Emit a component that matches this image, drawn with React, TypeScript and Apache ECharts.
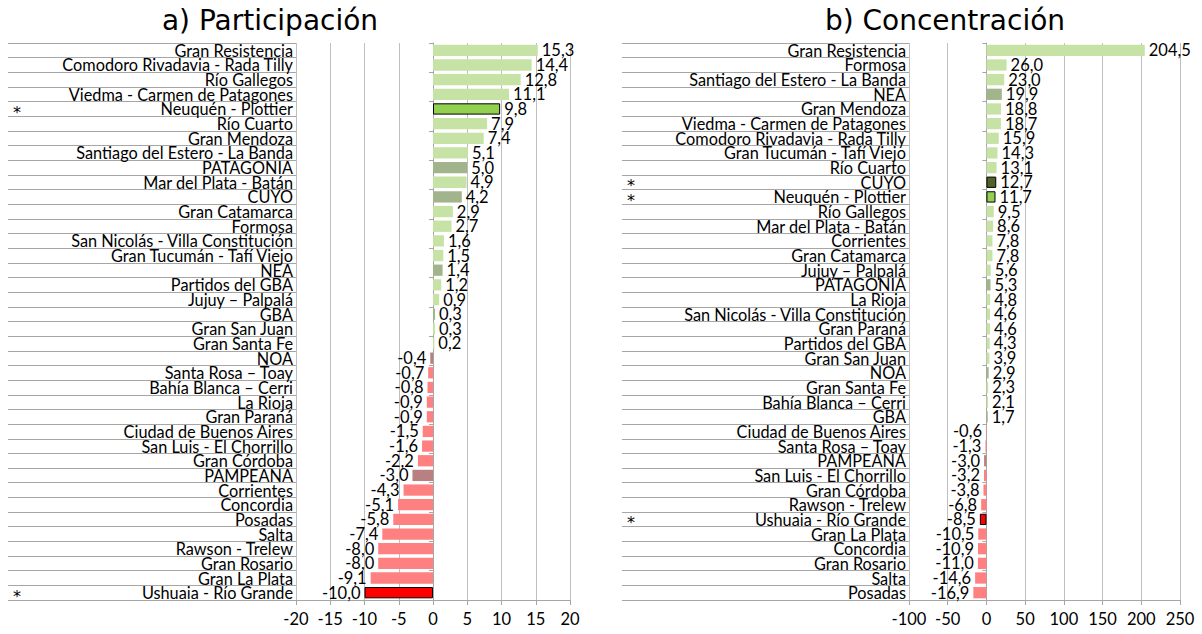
import React, { useEffect, useRef } from "react";
import * as echarts from "echarts";

const leftCategories = [
  "Gran Resistencia", "Comodoro Rivadavia - Rada Tilly", "Río Gallegos", "Viedma - Carmen de Patagones",
  "Neuquén - Plottier", "Río Cuarto", "Gran Mendoza", "Santiago del Estero - La Banda", "PATAGONIA",
  "Mar del Plata - Batán", "CUYO", "Gran Catamarca", "Formosa", "San Nicolás - Villa Constitución",
  "Gran Tucumán - Tafí Viejo", "NEA", "Partidos del GBA", "Jujuy – Palpalá", "GBA", "Gran San Juan",
  "Gran Santa Fe", "NOA", "Santa Rosa – Toay", "Bahía Blanca – Cerri", "La Rioja", "Gran Paraná",
  "Ciudad de Buenos Aires", "San Luis - El Chorrillo", "Gran Córdoba", "PAMPEANA", "Corrientes",
  "Concordia", "Posadas", "Salta", "Rawson - Trelew", "Gran Rosario", "Gran La Plata", "Ushuaia - Río Grande",
];
const leftValues = [
  15.3, 14.4, 12.8, 11.1, 9.8, 7.9, 7.4, 5.1, 5.0, 4.9, 4.2, 2.9, 2.7, 1.6, 1.5, 1.4, 1.2, 0.9, 0.3, 0.3,
  0.2, -0.4, -0.7, -0.8, -0.9, -0.9, -1.5, -1.6, -2.2, -3.0, -4.3, -5.1, -5.8, -7.4, -8.0, -8.0, -9.1, -10.0,
];
const leftStarred = ["Neuquén - Plottier", "Ushuaia - Río Grande"];

const rightCategories = [
  "Gran Resistencia", "Formosa", "Santiago del Estero - La Banda", "NEA", "Gran Mendoza",
  "Viedma - Carmen de Patagones", "Comodoro Rivadavia - Rada Tilly", "Gran Tucumán - Tafí Viejo", "Río Cuarto",
  "CUYO", "Neuquén - Plottier", "Río Gallegos", "Mar del Plata - Batán", "Corrientes", "Gran Catamarca",
  "Jujuy – Palpalá", "PATAGONIA", "La Rioja", "San Nicolás - Villa Constitución", "Gran Paraná",
  "Partidos del GBA", "Gran San Juan", "NOA", "Gran Santa Fe", "Bahía Blanca – Cerri", "GBA",
  "Ciudad de Buenos Aires", "Santa Rosa – Toay", "PAMPEANA", "San Luis - El Chorrillo", "Gran Córdoba",
  "Rawson - Trelew", "Ushuaia - Río Grande", "Gran La Plata", "Concordia", "Gran Rosario", "Salta", "Posadas",
];
const rightValues = [
  204.5, 26.0, 23.0, 19.9, 18.8, 18.7, 15.9, 14.3, 13.1, 12.7, 11.7, 9.5, 8.6, 7.8, 7.8, 5.6, 5.3, 4.8, 4.6,
  4.6, 4.3, 3.9, 2.9, 2.3, 2.1, 1.7, -0.6, -1.3, -3.0, -3.2, -3.8, -6.8, -8.5, -10.5, -10.9, -11.0, -14.6, -16.9,
];
const rightStarred = ["CUYO", "Neuquén - Plottier", "Ushuaia - Río Grande"];

const regions = ["PATAGONIA", "CUYO", "NEA", "GBA", "NOA", "PAMPEANA"];

const titles = ["a) Participación", "b) Concentración"];
const leftTicks = { min: -20, max: 20, interval: 5 };
const rightTicks = { min: -100, max: 250, interval: 50 };

const FONT = "Lato";

function barColor(name: string, v: number, starred: string[]) {
  const isStar = starred.includes(name);
  const isRegion = regions.includes(name);
  if (isStar && isRegion) return v >= 0 ? "#4f6228" : "#c00000";
  if (isStar) return v >= 0 ? "#92d050" : "#ff0000";
  if (isRegion) return v >= 0 ? "#a2b48c" : "#b88080";
  return v >= 0 ? "#c6e3a5" : "#ff8080";
}

function fmt(v: number) {
  return v.toFixed(1).replace(".", ",");
}

function buildData(cats: string[], vals: number[], starred: string[]) {
  return vals.map((v, i) => {
    const name = cats[i];
    const isStar = starred.includes(name);
    return {
      value: v,
      itemStyle: {
        color: barColor(name, v, starred),
        borderColor: isStar ? "#000" : undefined,
        borderWidth: isStar ? 1 : 0,
      },
      label: { position: v >= 0 ? "right" : "left" },
    };
  });
}

export default function App() {
  const ref = useRef<HTMLDivElement>(null);
  useEffect(() => {
    document.body.style.margin = "0";
    if (!ref.current) return;
    const chart = echarts.init(ref.current, undefined, { renderer: "svg" });
    const top = 43;
    const height = 557;
    const panels = [
      { cats: leftCategories, vals: leftValues, starred: leftStarred, ticks: leftTicks, labelLeft: 8, labelW: 288, dataLeft: 296, dataW: 274 },
      { cats: rightCategories, vals: rightValues, starred: rightStarred, ticks: rightTicks, labelLeft: 622, labelW: 287, dataLeft: 909, dataW: 271 },
    ];
    const grid: any[] = [];
    const xAxis: any[] = [];
    const yAxis: any[] = [];
    const series: any[] = [];
    panels.forEach((p, k) => {
      const gi = grid.length;
      grid.push({ left: p.labelLeft, top, width: p.labelW, height });
      grid.push({ left: p.dataLeft, top, width: p.dataW, height });
      xAxis.push({ type: "value", gridIndex: gi, show: false, min: 0, max: 1 });
      xAxis.push({
        type: "value",
        gridIndex: gi + 1,
        min: p.ticks.min,
        max: p.ticks.max,
        interval: p.ticks.interval,
        axisLine: { show: true, lineStyle: { color: "#a6a6a6" } },
        axisTick: { show: true, length: 5, lineStyle: { color: "#a6a6a6" } },
        axisLabel: { color: "#000", fontSize: 16.5, fontFamily: FONT, margin: 10 },
        splitLine: { show: true, lineStyle: { color: "#bfbfbf" } },
      });
      const yl = yAxis.length;
      yAxis.push({
        type: "category",
        gridIndex: gi,
        data: p.cats,
        inverse: true,
        position: "right",
        axisLine: { show: false },
        axisTick: { show: false },
        axisLabel: { inside: true, margin: 3, color: "#000", fontSize: 16.3, lineHeight: 14, fontFamily: FONT, interval: 0 },
        splitLine: { show: true, lineStyle: { color: "#a6a6a6" } },
      });
      yAxis.push({
        type: "category",
        gridIndex: gi,
        data: p.cats.map((c) => (p.starred.includes(c) ? "*" : "")),
        inverse: true,
        position: "left",
        axisLine: { show: false },
        axisTick: { show: false },
        axisLabel: {
          inside: true,
          margin: 5,
          interval: 0,
          color: "#000",
          fontSize: 16,
          fontFamily: "DejaVu Sans",
          formatter: (s: string) => (s ? "{s|" + s + "}" : ""),
          rich: { s: { color: "#000", fontSize: 16, fontFamily: "DejaVu Sans", padding: [7, 0, 0, 0] } },
        },
        splitLine: { show: false },
      });
      yAxis.push({
        type: "category",
        gridIndex: gi + 1,
        data: p.cats,
        inverse: true,
        axisLine: { show: true, onZero: true, lineStyle: { color: "#a6a6a6" } },
        axisTick: { show: true, length: 4, lineStyle: { color: "#a6a6a6" } },
        axisLabel: { show: false },
        splitLine: { show: false },
      });
      series.push({
        type: "bar",
        xAxisIndex: 2 * k + 1,
        yAxisIndex: yl + 2,
        data: buildData(p.cats, p.vals, p.starred),
        barCategoryGap: "23%",
        label: {
          show: true,
          distance: 4,
          color: "#000",
          fontSize: 16.5,
          lineHeight: 14,
          fontFamily: FONT,
          formatter: (d: any) => fmt(d.value),
        },
      });
    });
    chart.setOption({
      animation: false,
      textStyle: { fontFamily: FONT },
      title: [
        { text: titles[0], left: 265, top: 1, textAlign: "center", textStyle: { fontSize: 28, fontWeight: "normal", color: "#000", fontFamily: "DejaVu Sans" } },
        { text: titles[1], left: 940, top: 1, textAlign: "center", textStyle: { fontSize: 28, fontWeight: "normal", color: "#000", fontFamily: "DejaVu Sans" } },
      ],
      grid,
      xAxis,
      yAxis,
      series,
    });
    return () => chart.dispose();
  }, []);
  return <div ref={ref} style={{ width: 1202, height: 634 }} />;
}
